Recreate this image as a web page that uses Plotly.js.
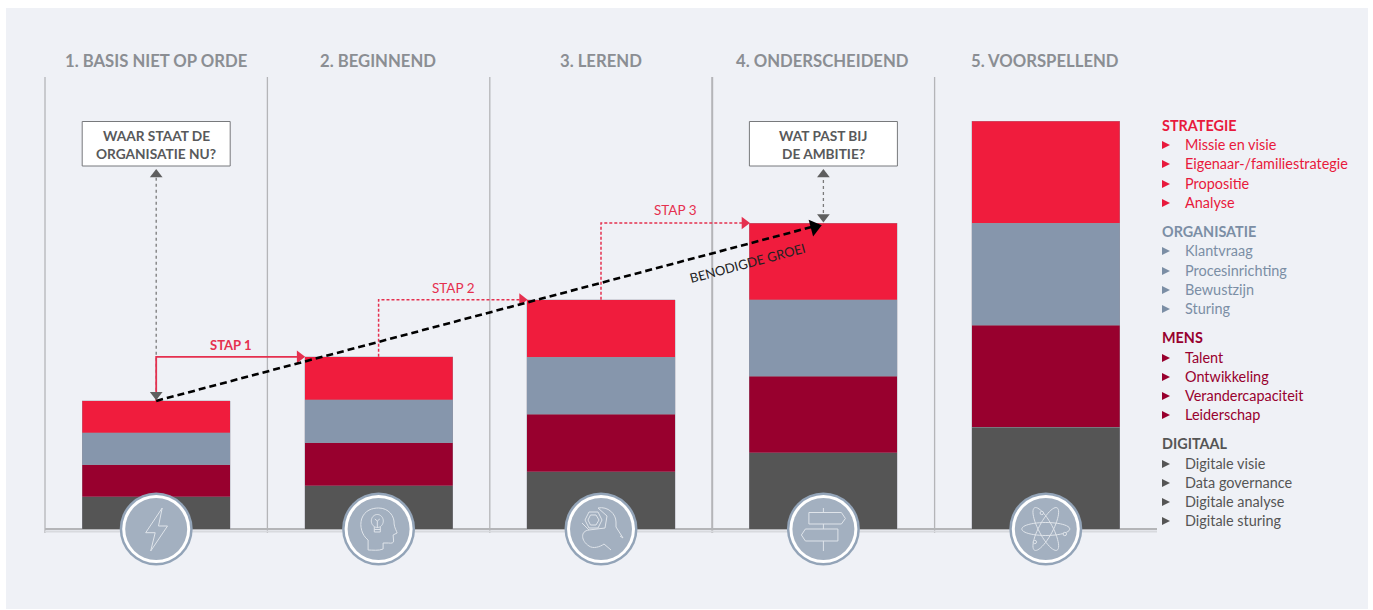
<!DOCTYPE html>
<html><head><meta charset="utf-8">
<script src="https://cdn.plot.ly/plotly-3.0.1.min.js"></script>
<style>html,body{margin:0;padding:0;background:#fff;overflow:hidden}#c{width:1373px;height:610px}</style>
</head><body><div id="c"></div>
<script>
// ---- data ----
const categories = ['1. BASIS NIET OP ORDE','2. BEGINNEND','3. LEREND','4. ONDERSCHEIDEND','5. VOORSPELLEND'];
const digitaal   = [7.85,10.55,14.05,18.75,25];
const mens       = [7.85,10.55,14.05,18.75,25];
const organisatie= [7.85,10.55,14.05,18.75,25];
const strategie  = [7.85,10.55,14.05,18.75,25];
const stepLabels = ['STAP 1','STAP 2','STAP 3'];
const growthLabel = 'BENODIGDE GROEI';
const boxNow = ['WAAR STAAT DE','ORGANISATIE NU?'];
const boxAmbition = ['WAT PAST BIJ','DE AMBITIE?'];
const legendGroups = ['STRATEGIE','ORGANISATIE','MENS','DIGITAAL'];
const legendStrategie = ['Missie en visie','Eigenaar-/familiestrategie','Propositie','Analyse'];
const legendOrganisatie = ['Klantvraag','Procesinrichting','Bewustzijn','Sturing'];
const legendMens = ['Talent','Ontwikkeling','Verandercapaciteit','Leiderschap'];
const legendDigitaal = ['Digitale visie','Data governance','Digitale analyse','Digitale sturing'];

// ---- style ----
const W=1373,H=610, FONT='Lato, "Open Sans", sans-serif';
const RED='#f01c3d',SLATE='#8696ac',MAROON='#98002e',DARK='#555555';
const LEG=['#e8193c','#7b8ea5','#98002e','#555555'];
const X0=45,X1=1157,Y0=529,YTOP=121;
const fx=v=>v/W, fy=v=>1-v/H;
const idx=categories.map((_,i)=>i);
const totals=idx.map(i=>digitaal[i]+mens[i]+organisatie[i]+strategie[i]);
const gap=0.334, half=(1-gap)/2;
const axisMax=100;

function bar(name,y,color){return {type:'bar',name,x:idx,y,width:1-gap,marker:{color,line:{color:'rgba(150,150,160,0.55)',width:0.6}},hoverinfo:'skip',showlegend:false};}
function ln(x,y,color,dash,width){return {type:'scatter',mode:'lines',x,y,line:{color,dash,width,shape:'linear'},hoverinfo:'skip',showlegend:false};}
function head(x,y,symbol,color,size,angle){return {type:'scatter',mode:'markers',x:[x],y:[y],marker:{symbol,color,size,angle:angle||0,line:{width:0}},hoverinfo:'skip',showlegend:false,cliponaxis:false};}

const traces=[bar('DIGITAAL',digitaal,DARK),bar('MENS',mens,MAROON),bar('ORGANISATIE',organisatie,SLATE),bar('STRATEGIE',strategie,RED)];

// grey dotted double arrows: box bottom to bar top
const boxBottom=88.6;
[0,3].forEach(i=>{
  traces.push(ln([i,i],[totals[i]+1,boxBottom-1],'#7a7a7a','dot',1.3));
  traces.push(head(i,boxBottom-1.7,'triangle-up','#5f5f5f',11));
});
// step arrows
const dashes=['solid','3px 2px','3px 2px'], widths=[1.8,1.5,1.5];
[0,1,2].forEach(i=>{
  const ex=i+1-half-0.004;
  traces.push(ln([i,i,ex],[totals[i],totals[i+1],totals[i+1]],'#e5304f',dashes[i],widths[i]));
  traces.push(head(ex-0.018,totals[i+1],'triangle-right','#e5304f',11));
});
// black growth arrow
traces.push(ln([0,2.98],[totals[0],totals[3]-0.5],'#000','7px 4px',2.6));
traces.push(head(2.96,totals[3]-1,'triangle-right','#000',15,-15));
[0,3].forEach(i=>traces.push(head(i,totals[i]+1.5,'triangle-down','#5f5f5f',11)));

// ---- shapes ----
const shapes=[];
shapes.push({type:'rect',xref:'paper',yref:'paper',x0:fx(6),x1:fx(1368),y0:fy(8),y1:fy(609),fillcolor:'#eff1f6',line:{width:0},layer:'below'});
[0,1,2,3,4].forEach(i=>{
  const x=fx(X0+i*(X1-X0)/5);
  shapes.push({type:'line',xref:'paper',yref:'paper',x0:x,x1:x,y0:fy(77),y1:fy(533),line:{color:'#b4b5b8',width:i===3?2:1.3},layer:'below'});
});
shapes.push({type:'line',xref:'paper',yref:'paper',x0:fx(X0),x1:fx(X1),y0:fy(531.5),y1:fy(531.5),line:{color:'#d8dade',width:2},layer:'below'});
function box(xc){shapes.push({type:'rect',xref:'paper',yref:'paper',x0:fx(xc-74),x1:fx(xc+74),y0:fy(121.5),y1:fy(166),fillcolor:'#fff',line:{color:'#77797c',width:1},layer:'above'});}
const centerPx=i=>X0+(i+0.5)*(X1-X0)/5;
box(centerPx(0)); box(centerPx(3));

// local-pixel path helper for the icons & legend triangles
function P(cx,cy,d){
  let odd=false;
  return d.replace(/-?\d+(\.\d+)?/g,m=>{odd=!odd;return odd?(fx(cx+parseFloat(m))).toFixed(6):(fy(cy+parseFloat(m))).toFixed(6);});
}
function path(cx,cy,d,color,width,fill){shapes.push({type:'path',xref:'paper',yref:'paper',path:P(cx,cy,d),line:{color:color||'#dfe4ea',width:width===undefined?1:width},fillcolor:fill||'rgba(0,0,0,0)',layer:'above'});}
function circle(cx,cy,r,fill,line,lw){shapes.push({type:'circle',xref:'paper',yref:'paper',x0:fx(cx-r),x1:fx(cx+r),y0:fy(cy+r),y1:fy(cy-r),fillcolor:fill,line:{color:line||fill,width:lw===undefined?0:lw},layer:'above'});}
function ell(rx,ry,deg){const a=deg*Math.PI/180;let s='';for(let k=0;k<=48;k++){const t=k/48*2*Math.PI,x=rx*Math.cos(t),y=ry*Math.sin(t);
  s+=(k?'L ':'M ')+(x*Math.cos(a)-y*Math.sin(a)).toFixed(2)+' '+(x*Math.sin(a)+y*Math.cos(a)).toFixed(2)+' ';}return s+'Z';}

const CY=529;
idx.forEach(i=>{const c=centerPx(i);
  circle(c,CY,36.5,'#93a4b8');circle(c,CY,34,'#ffffff');circle(c,CY,31,'#a3b0c0');});
// lightning
path(centerPx(0),CY,'M 6 -21 L -10.5 3.7 L -1 3.7 L -5.5 22 L 11.3 -3 L 2.3 -3 Z');
// head with bulb
path(centerPx(1),CY,'M -10.5 21 L -10.5 11 C -17 6 -19 -3 -17 -10 C -14 -19 -6 -21 0 -21 C 10 -21 16 -13 15.5 -5 C 16 -1 18 2 18.5 4 L 14.5 6 L 15 12 C 15 14 13 14.5 10 14 L 4.5 14 L 4.5 20 C 0 22 -6 21 -10.5 21 Z');
path(centerPx(1)-1.3,CY-8,ell(6,6.5,0));
path(centerPx(1)-1.3,CY-8,'M -3 6 L -3 11 L 3 11 L 3 6 M 0 7 L 0 0 M -2.5 -2 L 0 0 L 2.5 -2 M -3 8.5 L 3 8.5');
// wrench + nut
path(centerPx(2),CY,'M -3 -21 C 7 -23 15 -15 15 -7 L 15 -2 L 22 9 M 22 9 L 19 7 M -12 1 C -21 2 -20 12 -12 17 C -8 20 -1 18 3 15 L 10 21 M -3 -21 L 6 -13 L 4 -1 L -12 1 L -19 -6');
path(centerPx(2)-8,CY-9,'M -8 0 L -4 -8 L 5 -8 L 9 0 L 5 8 L -4 8 Z M -5 0 L -2.5 -5 L 3 -5 L 6 0 L 3 5 L -2.5 5 Z');
// signpost
path(centerPx(3),CY,'M 0 -21 L 0 -17 M 0 -5 L 0 0 M 0 12 L 0 22 M -14.5 -16.5 L 18 -16.5 L 22 -10.5 L 18 -5 L -14.5 -5 Z M -18 0 L 14.5 0 L 14.5 12 L -18 12 L -22 6 Z');
// atom
const ac=centerPx(4);
path(ac,CY,ell(24,6.5,0));path(ac,CY,ell(24,7,62));path(ac,CY,ell(24,7,118));
circle(ac-4,CY-16,1.7,'#a3b0c0','#dfe4ea',1);circle(ac+19,CY+5,1.7,'#a3b0c0','#dfe4ea',1);circle(ac-11,CY+13,1.7,'#a3b0c0','#dfe4ea',1);

// ---- annotations ----
const ann=[];
function text(x,y,t,o){ann.push(Object.assign({xref:'paper',yref:'paper',x:fx(x),y:fy(y),text:t,showarrow:false,xanchor:'center',yanchor:'middle',borderpad:0,font:{family:FONT,size:13,color:'#555'}},o||{}));}
categories.forEach((c,i)=>text(centerPx(i)-0.5,61.5,'<b>'+c+'</b>',{font:{family:FONT,size:16.7,color:'#8b8e93'}}));
[[centerPx(0),boxNow],[centerPx(3),boxAmbition]].forEach(([x,b])=>{
  text(x,135,'<b>'+b[0]+'</b>',{font:{family:FONT,size:13.7,color:'#58595b'}});
  text(x,153,'<b>'+b[1]+'</b>',{font:{family:FONT,size:13.7,color:'#58595b'}});
});
text(230,344.5,'<b>'+stepLabels[0]+'</b>',{font:{family:FONT,size:13,color:'#e5304f'}});
text(453,287.5,stepLabels[1],{font:{family:FONT,size:13.5,color:'#e5304f'}});
text(675,210.5,stepLabels[2],{font:{family:FONT,size:13.5,color:'#e5304f'}});
text(747,263,growthLabel,{textangle:-15,font:{family:FONT,size:13,color:'#222'}});

const legendRows=[[125.5,[144.5,163.5,183.5,202.5],legendStrategie],[231.5,[250.5,270.5,289.5,308.5],legendOrganisatie],[337.5,[357.5,376.5,395.5,414.5],legendMens],[443.5,[463.5,482.5,501.5,520.5],legendDigitaal]];
legendRows.forEach(([hy,rows,items],g)=>{
  text(1161,hy,'<b>'+legendGroups[g]+'</b>',{xanchor:'left',font:{family:FONT,size:14.4,color:LEG[g]}});
  rows.forEach((ry,k)=>{
    text(1183.5,ry,items[k],{xanchor:'left',font:{family:FONT,size:14.45,color:LEG[g]}});
    path(1162,ry+0.5,'M 0 -4 L 8 0 L 0 4 Z',LEG[g],0,LEG[g]);
  });
});

const layout={width:W,height:H,margin:{l:0,r:0,t:0,b:0},paper_bgcolor:'#ffffff',plot_bgcolor:'rgba(0,0,0,0)',barmode:'stack',showlegend:false,
  xaxis:{domain:[fx(X0),fx(X1)],range:[-0.5,4.5],showgrid:false,zeroline:false,showline:false,tickvals:[],fixedrange:true},
  yaxis:{domain:[fy(Y0),fy(YTOP)],range:[0,axisMax],showgrid:false,zeroline:true,zerolinecolor:'#b4b5b8',zerolinewidth:1.5,showline:false,tickvals:[],fixedrange:true},
  shapes,annotations:ann,font:{family:FONT}};
Plotly.newPlot('c',traces,layout,{displayModeBar:false,staticPlot:true});
</script></body></html>
